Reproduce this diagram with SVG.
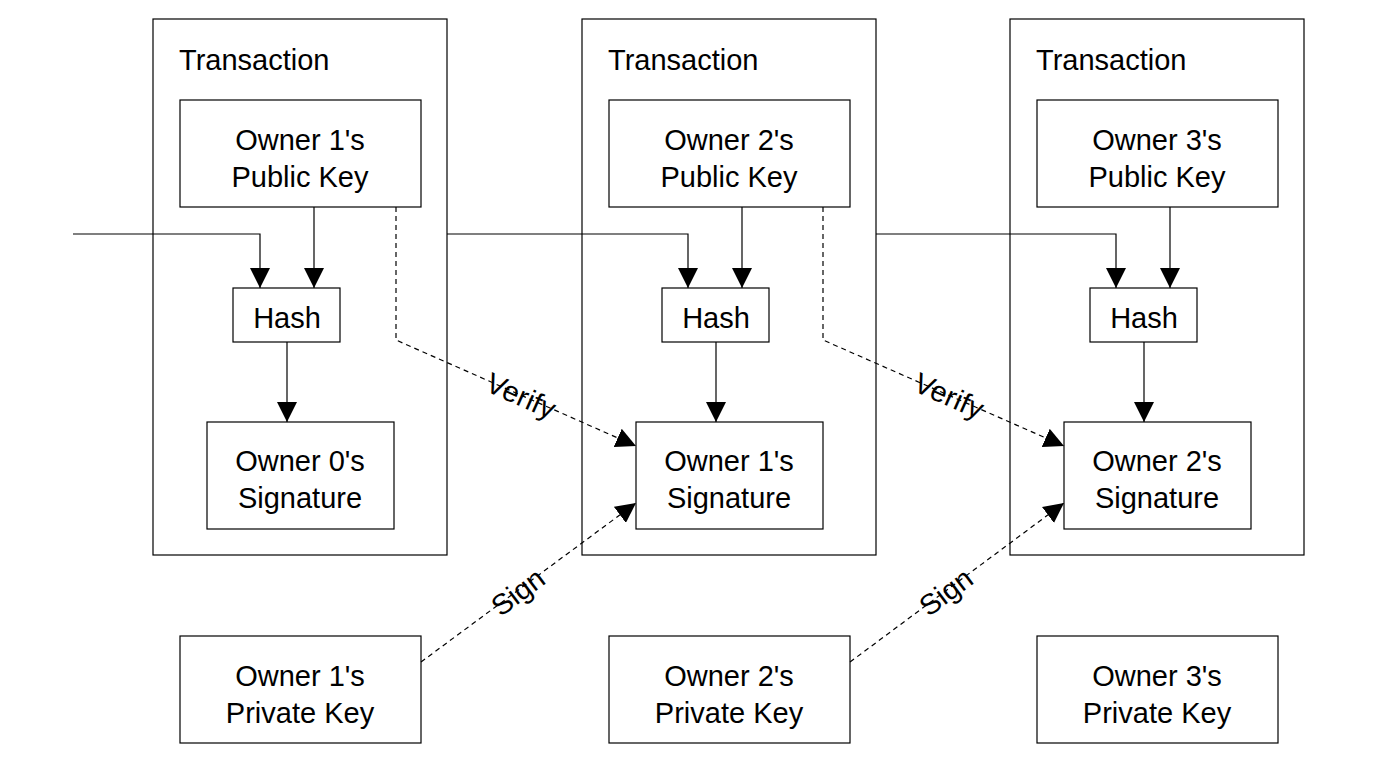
<svg xmlns="http://www.w3.org/2000/svg" width="1400" height="784" viewBox="0 0 1400 784">
<style>
rect{fill:#fff;stroke:#000;stroke-width:1.2}
text{font-family:"Liberation Sans",Arial,sans-serif;font-size:29px;fill:#000;text-anchor:middle}
.t{text-anchor:start}
.c path{fill:none;stroke:#000;stroke-width:1.2}
.c .d{stroke-dasharray:5,4}
</style>
<defs>
<marker id="a" viewBox="0 0 10 10" refX="10" refY="5" markerWidth="20" markerHeight="20" markerUnits="userSpaceOnUse" orient="auto"><path d="M0,0L10,5L0,10z" fill="#000"/></marker>
</defs>
<rect width="1400" height="784" style="stroke:none"/>
<g id="tx1"><rect x="153" y="19" width="294" height="536"/><text class="t" x="179" y="70">Transaction</text></g>
<g id="tx2"><rect x="582" y="19" width="294" height="536"/><text class="t" x="608" y="70">Transaction</text></g>
<g id="tx3"><rect x="1010" y="19" width="294" height="536"/><text class="t" x="1036" y="70">Transaction</text></g>
<g id="pub1"><rect x="180" y="100" width="241" height="107"/><text x="300" y="150">Owner 1's</text><text x="300" y="187">Public Key</text></g>
<g id="pub2"><rect x="609" y="100" width="241" height="107"/><text x="729" y="150">Owner 2's</text><text x="729" y="187">Public Key</text></g>
<g id="pub3"><rect x="1037" y="100" width="241" height="107"/><text x="1157" y="150">Owner 3's</text><text x="1157" y="187">Public Key</text></g>
<g id="hash1"><rect x="233" y="288" width="107" height="54"/><text x="287" y="328">Hash</text></g>
<g id="hash2"><rect x="662" y="288" width="107" height="54"/><text x="716" y="328">Hash</text></g>
<g id="hash3"><rect x="1090" y="288" width="107" height="54"/><text x="1144" y="328">Hash</text></g>
<g id="sig1"><rect x="207" y="422" width="187" height="107"/><text x="300" y="471">Owner 0's</text><text x="300" y="508">Signature</text></g>
<g id="sig2"><rect x="636" y="422" width="187" height="107"/><text x="729" y="471">Owner 1's</text><text x="729" y="508">Signature</text></g>
<g id="sig3"><rect x="1064" y="422" width="187" height="107"/><text x="1157" y="471">Owner 2's</text><text x="1157" y="508">Signature</text></g>
<g id="priv1"><rect x="180" y="636" width="241" height="107"/><text x="300" y="686">Owner 1's</text><text x="300" y="723">Private Key</text></g>
<g id="priv2"><rect x="609" y="636" width="241" height="107"/><text x="729" y="686">Owner 2's</text><text x="729" y="723">Private Key</text></g>
<g id="priv3"><rect x="1037" y="636" width="241" height="107"/><text x="1157" y="686">Owner 3's</text><text x="1157" y="723">Private Key</text></g>
<g class="c" id="connectors">
<path d="M73,234H260V288" marker-end="url(#a)"/>
<path d="M314,207V288" marker-end="url(#a)"/>
<path d="M287,342V422" marker-end="url(#a)"/>
<path d="M447,234H688V288" marker-end="url(#a)"/>
<path d="M742,207V288" marker-end="url(#a)"/>
<path d="M716,342V422" marker-end="url(#a)"/>
<path d="M876,234H1116V288" marker-end="url(#a)"/>
<path d="M1170,207V288" marker-end="url(#a)"/>
<path d="M1144,342V422" marker-end="url(#a)"/>
<path class="d" d="M396,207V340L636,446" marker-end="url(#a)"/>
<path class="d" d="M823,207V340L1064,446" marker-end="url(#a)"/>
<path class="d" d="M421,662L636,503" marker-end="url(#a)"/>
<path class="d" d="M850,662L1064,503" marker-end="url(#a)"/>
<text transform="translate(517,405) rotate(24)">Verify</text>
<text transform="translate(945,405) rotate(24)">Verify</text>
<text transform="translate(524,600) rotate(-37)">Sign</text>
<text transform="translate(952,600) rotate(-37)">Sign</text>
</g>
</svg>
